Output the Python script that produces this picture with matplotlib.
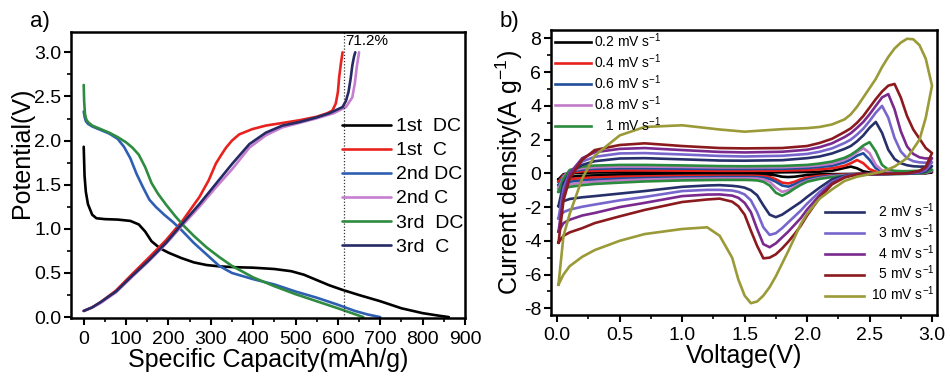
import numpy as np
import matplotlib
matplotlib.use("Agg")
import matplotlib.pyplot as plt
from matplotlib.ticker import MultipleLocator

plt.rcParams['font.family'] = ['Liberation Sans', 'DejaVu Sans']
plt.rcParams['mathtext.fontset'] = 'custom'
plt.rcParams['mathtext.rm'] = 'Liberation Sans'
plt.rcParams['mathtext.it'] = 'Liberation Sans:italic'
plt.rcParams['mathtext.default'] = 'regular'
plt.rcParams['axes.unicode_minus'] = False

# ---------------- Panel a: charge/discharge ----------------
cap_1st_dc = [0, 2, 5, 10, 20, 30, 50, 80, 110, 130, 145, 160, 180, 200, 230, 260, 290, 320, 360, 400,
              450, 490, 520, 550, 580, 610, 650, 700, 750, 800, 840, 862]
pot_1st_dc = [1.93, 1.6, 1.42, 1.28, 1.16, 1.12, 1.11, 1.105, 1.09, 1.05, 0.97, 0.86, 0.78, 0.73, 0.67, 0.62,
              0.59, 0.575, 0.565, 0.56, 0.545, 0.52, 0.48, 0.42, 0.36, 0.31, 0.25, 0.18, 0.1, 0.045, 0.015, 0.0]

cap_1st_c = [0, 20, 40, 76, 115, 155, 194, 233, 273, 295, 312, 325, 336, 350, 367, 398, 430, 470, 509, 550,
             575, 587, 595, 600, 603, 607, 611]
pot_1st_c = [0.07, 0.11, 0.17, 0.3, 0.49, 0.68, 0.87, 1.09, 1.36, 1.55, 1.74, 1.84, 1.92, 2.0, 2.07, 2.13,
             2.17, 2.2, 2.23, 2.27, 2.31, 2.34, 2.42, 2.55, 2.72, 2.87, 3.0]

cap_2nd_dc = [0, 2, 5, 10, 20, 40, 60, 80, 95, 110, 125, 140, 155, 170, 190, 210, 230, 260, 290, 320, 350,
              400, 450, 500, 550, 600, 640, 670, 700]
pot_2nd_dc = [2.33, 2.27, 2.22, 2.19, 2.16, 2.12, 2.08, 2.02, 1.93, 1.8, 1.62, 1.47, 1.33, 1.25, 1.16, 1.08,
              0.99, 0.84, 0.71, 0.58, 0.5, 0.43, 0.37, 0.29, 0.22, 0.14, 0.07, 0.03, 0.0]

cap_2nd_c = [0, 20, 40, 76, 115, 155, 194, 233, 273, 312, 351, 391, 430, 469, 509, 548, 590, 619, 634, 640,
             645, 650]
pot_2nd_c = [0.07, 0.11, 0.16, 0.28, 0.46, 0.64, 0.83, 1.04, 1.25, 1.47, 1.68, 1.92, 2.06, 2.15, 2.2, 2.25,
             2.31, 2.38, 2.49, 2.65, 2.85, 3.0]

cap_3rd_dc = [0, 1, 3, 6, 10, 20, 40, 60, 80, 100, 115, 130, 145, 160, 175, 195, 215, 235, 260, 290, 320,
              350, 400, 450, 500, 550, 600, 630, 660]
pot_3rd_dc = [2.63, 2.45, 2.3, 2.24, 2.21, 2.17, 2.13, 2.09, 2.04, 1.98, 1.92, 1.84, 1.7, 1.52, 1.4, 1.27,
              1.15, 1.04, 0.92, 0.79, 0.68, 0.58, 0.45, 0.35, 0.26, 0.18, 0.1, 0.05, 0.0]

cap_3rd_c = [0, 20, 40, 76, 115, 155, 194, 233, 273, 312, 351, 391, 430, 469, 509, 548, 580, 611, 619, 625,
             630, 634, 638, 641]
pot_3rd_c = [0.07, 0.11, 0.17, 0.29, 0.47, 0.65, 0.84, 1.06, 1.28, 1.51, 1.74, 1.96, 2.09, 2.17, 2.21, 2.26,
             2.31, 2.38, 2.45, 2.55, 2.7, 2.85, 2.95, 3.0]

gc_labels = ['1st  DC', '1st  C', '2nd DC', '2nd C', '3rd  DC', '3rd  C']
gc_colors = ['#000000', '#e8231f', '#2f5fb3', '#c57ed0', '#2e8b40', '#262b66']
retention_x = 614
retention_text = '71.2%'

# ---------------- Panel b: CV curves ----------------
v_up = [0.01, 0.05, 0.1, 0.2, 0.3, 0.5, 0.7, 1.0, 1.3, 1.5, 1.8, 2.0, 2.1, 2.2, 2.3, 2.35, 2.4, 2.45, 2.5,
        2.55, 2.6, 2.65, 2.7, 2.75, 2.8, 2.85, 2.9, 2.95, 3.0]
v_dn = [3.0, 2.95, 2.9, 2.8, 2.7, 2.6, 2.4, 2.3, 2.2, 2.1, 2.0, 1.95, 1.9, 1.85, 1.8, 1.75, 1.7, 1.65, 1.6,
        1.55, 1.5, 1.45, 1.4, 1.3, 1.2, 1.0, 0.7, 0.5, 0.3, 0.2, 0.1, 0.05, 0.01]

i_up_02 = [-0.36, -0.05, 0.0, 0.03, 0.05, 0.06, 0.06, 0.05, 0.05, 0.05, 0.06, 0.08, 0.1, 0.15, 0.32, 0.4, 0.3,
           0.12, 0.05, 0.03, 0.03, 0.03, 0.03, 0.03, 0.03, 0.03, 0.04, 0.05, 0.06]
i_dn_02 = [0.06, 0.0, -0.02, -0.02, -0.02, -0.02, -0.03, -0.04, -0.05, -0.06, -0.1, -0.15, -0.2, -0.22, -0.2,
           -0.12, -0.08, -0.06, -0.06, -0.05, -0.05, -0.05, -0.05, -0.05, -0.05, -0.06, -0.08, -0.1, -0.12,
           -0.15, -0.2, -0.26, -0.36]

i_up_04 = [-0.5, -0.1, 0.05, 0.12, 0.15, 0.17, 0.17, 0.16, 0.15, 0.15, 0.16, 0.2, 0.24, 0.3, 0.45, 0.6, 0.79,
           0.6, 0.25, 0.1, 0.06, 0.05, 0.05, 0.05, 0.06, 0.07, 0.08, 0.1, 0.12]
i_dn_04 = [0.12, 0.02, 0.0, -0.02, -0.02, -0.03, -0.05, -0.07, -0.1, -0.15, -0.25, -0.35, -0.5, -0.6, -0.55,
           -0.35, -0.22, -0.17, -0.15, -0.14, -0.14, -0.14, -0.14, -0.14, -0.14, -0.15, -0.18, -0.2, -0.25,
           -0.28, -0.35, -0.42, -0.5]

i_up_06 = [-0.7, -0.15, 0.1, 0.22, 0.27, 0.3, 0.3, 0.28, 0.26, 0.26, 0.27, 0.32, 0.38, 0.45, 0.65, 0.82, 1.05,
           1.19, 0.8, 0.3, 0.12, 0.08, 0.07, 0.07, 0.08, 0.09, 0.1, 0.12, 0.15]
i_dn_06 = [0.15, 0.03, 0.0, -0.02, -0.02, -0.03, -0.06, -0.1, -0.14, -0.22, -0.35, -0.48, -0.65, -0.79, -0.72,
           -0.5, -0.33, -0.26, -0.23, -0.22, -0.22, -0.22, -0.22, -0.22, -0.23, -0.24, -0.28, -0.32, -0.38,
           -0.42, -0.5, -0.58, -0.7]

i_up_08 = [-0.9, -0.2, 0.15, 0.3, 0.36, 0.4, 0.4, 0.38, 0.35, 0.35, 0.36, 0.42, 0.48, 0.58, 0.8, 1.0, 1.25,
           1.5, 1.2, 0.5, 0.18, 0.1, 0.09, 0.09, 0.1, 0.11, 0.12, 0.15, 0.18]
i_dn_08 = [0.18, 0.04, 0.0, -0.02, -0.03, -0.04, -0.08, -0.12, -0.18, -0.28, -0.45, -0.6, -0.8, -1.0, -1.1,
           -0.85, -0.5, -0.36, -0.31, -0.3, -0.3, -0.3, -0.3, -0.3, -0.31, -0.32, -0.37, -0.42, -0.5, -0.55,
           -0.65, -0.75, -0.9]

i_up_1 = [-1.09, -0.3, 0.2, 0.4, 0.46, 0.5, 0.5, 0.47, 0.43, 0.42, 0.44, 0.5, 0.58, 0.7, 0.92, 1.1, 1.35, 1.65,
          1.85, 1.3, 0.5, 0.22, 0.15, 0.13, 0.13, 0.14, 0.15, 0.18, 0.22]
i_dn_1 = [0.22, 0.05, 0.0, -0.03, -0.04, -0.05, -0.1, -0.15, -0.22, -0.33, -0.5, -0.68, -0.9, -1.15, -1.33,
          -1.15, -0.72, -0.5, -0.42, -0.4, -0.39, -0.39, -0.39, -0.39, -0.4, -0.42, -0.48, -0.55, -0.63, -0.7,
          -0.8, -0.92, -1.09]

i_up_2 = [-1.94, -0.6, 0.05, 0.5, 0.72, 0.88, 0.9, 0.83, 0.76, 0.75, 0.78, 0.9, 1.0, 1.18, 1.45, 1.62, 1.9,
          2.25, 2.7, 3.05, 2.4, 1.4, 0.85, 0.6, 0.48, 0.42, 0.4, 0.4, 0.42]
i_dn_2 = [0.42, 0.12, 0.03, -0.02, -0.03, -0.04, -0.05, -0.15, -0.35, -0.85, -1.4, -1.7, -1.95, -2.2, -2.45,
          -2.6, -2.45, -1.9, -1.3, -1.0, -0.85, -0.78, -0.74, -0.7, -0.72, -0.8, -1.05, -1.2, -1.35, -1.42,
          -1.52, -1.65, -1.94]

i_up_3 = [-2.67, -0.9, 0.05, 0.7, 0.98, 1.18, 1.2, 1.12, 1.03, 1.0, 1.04, 1.15, 1.28, 1.48, 1.8, 2.0, 2.3,
          2.65, 3.1, 3.6, 4.0, 3.3, 2.1, 1.3, 0.9, 0.72, 0.65, 0.63, 0.65]
i_dn_3 = [0.65, 0.2, 0.06, 0.0, -0.02, -0.04, -0.05, -0.2, -0.5, -1.1, -1.8, -2.2, -2.55, -2.9, -3.25, -3.55,
          -3.65, -3.2, -2.3, -1.6, -1.25, -1.1, -1.02, -0.98, -0.98, -1.05, -1.4, -1.6, -1.85, -1.98, -2.15,
          -2.3, -2.67]

i_up_4 = [-3.46, -1.3, 0.0, 0.9, 1.25, 1.45, 1.5, 1.38, 1.27, 1.24, 1.28, 1.4, 1.55, 1.78, 2.15, 2.38, 2.7,
          3.05, 3.5, 4.0, 4.5, 4.7, 3.8, 2.5, 1.6, 1.15, 0.95, 0.88, 0.9]
i_dn_4 = [0.9, 0.3, 0.1, 0.0, -0.02, -0.04, -0.05, -0.22, -0.58, -1.3, -2.15, -2.65, -3.05, -3.45, -3.8, -4.15,
          -4.38, -4.2, -3.3, -2.3, -1.75, -1.45, -1.32, -1.25, -1.26, -1.35, -1.75, -2.0, -2.35, -2.5, -2.75,
          -2.95, -3.46]

i_up_5 = [-4.11, -1.6, -0.3, 0.8, 1.38, 1.68, 1.78, 1.62, 1.5, 1.48, 1.5, 1.62, 1.8, 2.05, 2.45, 2.67, 3.0,
          3.4, 3.9, 4.4, 4.85, 5.2, 5.3, 4.5, 3.4, 2.6, 2.05, 1.5, 1.2]
i_dn_5 = [1.2, 0.4, 0.15, 0.0, -0.02, -0.03, -0.05, -0.25, -0.65, -1.45, -2.5, -3.1, -3.6, -4.05, -4.45, -4.8,
          -5.0, -5.04, -4.3, -3.4, -2.45, -1.95, -1.68, -1.5, -1.55, -1.7, -2.17, -2.55, -2.95, -3.25, -3.5,
          -3.7, -4.11]

i_up_10 = [-6.6, -3.7, -2.4, -0.3, 1.05, 2.25, 2.75, 2.85, 2.6, 2.47, 2.62, 2.68, 2.75, 2.9, 3.2, 3.5, 3.95,
           4.5, 5.05, 5.6, 6.3, 6.9, 7.4, 7.75, 7.98, 7.95, 7.6, 6.8, 5.2]
i_dn_10 = [5.2, 3.3, 2.0, 0.9, 0.4, 0.1, -0.2, -0.45, -0.95, -1.5, -2.4, -3.0, -3.8, -4.6, -5.35, -6.1, -6.75,
           -7.25, -7.6, -7.7, -7.25, -6.3, -5.0, -3.7, -3.2, -3.3, -3.6, -4.0, -4.55, -4.95, -5.5, -6.0, -6.6]

cv_labels = ['0.2 mV s$^{-1}$', '0.4 mV s$^{-1}$', '0.6 mV s$^{-1}$', '0.8 mV s$^{-1}$', '   1 mV s$^{-1}$',
             '  2 mV s$^{-1}$', '  3 mV s$^{-1}$', '  4 mV s$^{-1}$', '  5 mV s$^{-1}$', '10 mV s$^{-1}$']
cv_colors = ['#000000', '#e8211c', '#1f4e9c', '#c27bc9', '#2a8a3e', '#26306a', '#7766cc', '#7a2a8e',
             '#8b1a1e', '#9a9a38']

# ---------------- Figure ----------------
fig = plt.figure(figsize=(9.5, 3.81), dpi=100)
ax1 = fig.add_axes([71 / 950, 1 - 318 / 381, 394 / 950, 286 / 381])
ax2 = fig.add_axes([551 / 950, 1 - 315 / 381, 386 / 950, 285 / 381])

LW = 1.9
gc_caps = [cap_1st_dc, cap_1st_c, cap_2nd_dc, cap_2nd_c, cap_3rd_dc, cap_3rd_c]
gc_pots = [pot_1st_dc, pot_1st_c, pot_2nd_dc, pot_2nd_c, pot_3rd_dc, pot_3rd_c]
for c, p, lab, col in zip(gc_caps, gc_pots, gc_labels, gc_colors):
    ax1.plot(c, p, color=col, lw=LW, label=lab, solid_capstyle='round')

ax1.axvline(retention_x, color='#333333', lw=0.9, ls=(0, (1, 1.5)))
ax1.text(retention_x + 3, 3.13, retention_text, fontsize=11, ha='left', va='center')

ax1.set_xlim(-30, 900)
ax1.set_ylim(-0.01, 3.23)
ax1.xaxis.set_major_locator(MultipleLocator(100))
ax1.xaxis.set_minor_locator(MultipleLocator(50))
ax1.yaxis.set_major_locator(MultipleLocator(0.5))
ax1.yaxis.set_minor_locator(MultipleLocator(0.25))
ax1.yaxis.set_major_formatter(matplotlib.ticker.FormatStrFormatter('%.1f'))
ax1.set_xlabel('Specific Capacity(mAh/g)', fontsize=18, labelpad=0)
ax1.set_ylabel('Potential(V)', fontsize=18, labelpad=2)
ax1.yaxis.set_label_coords(-0.094, 0.577)
leg1 = ax1.legend(loc='upper left', bbox_to_anchor=(0.688, 0.70), frameon=False, fontsize=14,
                  handlelength=2.5, handletextpad=0.25, labelspacing=0.33, borderpad=0, borderaxespad=0)

cv_up = [i_up_02, i_up_04, i_up_06, i_up_08, i_up_1, i_up_2, i_up_3, i_up_4, i_up_5, i_up_10]
cv_dn = [i_dn_02, i_dn_04, i_dn_06, i_dn_08, i_dn_1, i_dn_2, i_dn_3, i_dn_4, i_dn_5, i_dn_10]
lines = []
for iu, idn, lab, col in zip(cv_up, cv_dn, cv_labels, cv_colors):
    v = np.concatenate([v_up, v_dn])
    i = np.concatenate([iu, idn])
    ln, = ax2.plot(v, i, color=col, lw=LW, label=lab)
    lines.append(ln)

ax2.set_xlim(-0.05, 3.04)
ax2.set_ylim(-8.4, 8.5)
ax2.xaxis.set_major_locator(MultipleLocator(0.5))
ax2.xaxis.set_minor_locator(MultipleLocator(0.25))
ax2.yaxis.set_major_locator(MultipleLocator(2))
ax2.yaxis.set_minor_locator(MultipleLocator(1))
ax2.xaxis.set_major_formatter(matplotlib.ticker.FormatStrFormatter('%.1f'))
ax2.set_xlabel('Voltage(V)', fontsize=18, labelpad=0)
ax2.set_ylabel('Current density(A g$^{-1}$)', fontsize=18, labelpad=0)
ax2.yaxis.set_label_coords(-0.067, 0.5)

legA = ax2.legend(handles=lines[:5], loc='upper left', bbox_to_anchor=(0.01, 0.995), frameon=False,
                  fontsize=10, handlelength=2.6, handletextpad=0.2, labelspacing=0.17, borderpad=0,
                  borderaxespad=0)
ax2.add_artist(legA)
legB = ax2.legend(handles=lines[5:], loc='upper left', bbox_to_anchor=(0.71, 0.40), frameon=False,
                  fontsize=10, handlelength=2.8, handletextpad=0.5, labelspacing=0.17, borderpad=0,
                  borderaxespad=0)

for ax in (ax1, ax2):
    for s in ax.spines.values():
        s.set_linewidth(1.8)
    ax.tick_params(which='major', direction='out', length=5, width=1.5, labelsize=14, pad=2)
    ax.tick_params(which='minor', direction='out', length=3, width=1.2)
    ax.tick_params(axis='x', which='major', pad=4)

fig.text(30 / 950, 1 - 22 / 381, 'a)', fontsize=16, ha='left', va='center')
fig.text(500 / 950, 1 - 22 / 381, 'b)', fontsize=16, ha='left', va='center')

fig.savefig('out.png', dpi=100)
